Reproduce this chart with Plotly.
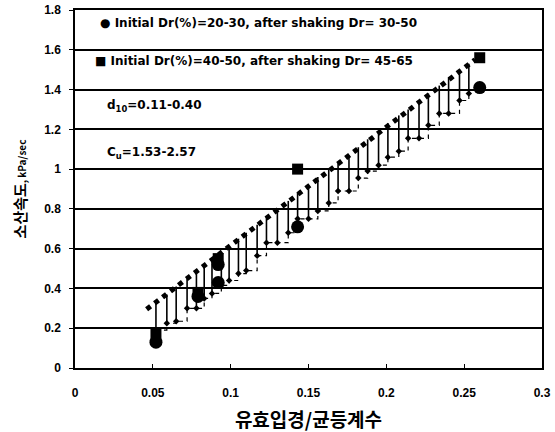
import plotly.graph_objects as go

# Series 1: Initial Dr(%)=20-30, after shaking Dr=30-50 (circles)
s1_x = [0.052, 0.079, 0.092, 0.092, 0.143, 0.260]
s1_y = [0.13, 0.36, 0.43, 0.52, 0.71, 1.41]

# Series 2: Initial Dr(%)=40-50, after shaking Dr=45-65 (squares)
s2_x = [0.052, 0.079, 0.092, 0.143, 0.260]
s2_y = [0.17, 0.38, 0.55, 1.00, 1.56]

# Upper trend line (dotted) end points
trend_x = [0.046, 0.257]
trend_y = [0.295, 1.55]

# Hatched band: verticals from top to bottom
band_x = [0.052, 0.059, 0.065, 0.072, 0.078, 0.083, 0.088, 0.094, 0.099, 0.105,
          0.110, 0.117, 0.123, 0.130, 0.137, 0.143, 0.150, 0.156, 0.163, 0.169,
          0.176, 0.182, 0.188, 0.195, 0.201, 0.208, 0.214, 0.221, 0.227, 0.234,
          0.240, 0.247, 0.253]
band_top = [0.33, 0.37, 0.41, 0.45, 0.49, 0.52, 0.55, 0.58, 0.61, 0.65,
            0.68, 0.72, 0.76, 0.80, 0.84, 0.88, 0.92, 0.96, 1.00, 1.03,
            1.07, 1.11, 1.15, 1.19, 1.23, 1.27, 1.30, 1.34, 1.38, 1.42,
            1.46, 1.50, 1.53]
band_bottom = [0.19, 0.225, 0.235, 0.30, 0.30, 0.35, 0.375, 0.415, 0.44, 0.475,
               0.49, 0.565, 0.63, 0.63, 0.68, 0.75, 0.75, 0.79, 0.83, 0.89,
               0.89, 0.955, 0.99, 1.02, 1.06, 1.09, 1.155, 1.155, 1.22, 1.28,
               1.28, 1.345, 1.38]

x_ticks = [0, 0.05, 0.1, 0.15, 0.2, 0.25, 0.3]
y_ticks = [0, 0.2, 0.4, 0.6, 0.8, 1, 1.2, 1.4, 1.6, 1.8]

seg_x, seg_y = [], []
for xv, t, b in zip(band_x, band_top, band_bottom):
    seg_x += [xv, xv, None]
    seg_y += [t, b, None]

fig = go.Figure()
fig.add_trace(go.Scatter(x=seg_x, y=seg_y, mode="lines",
                         line=dict(color="black", width=1.6), showlegend=False))
fig.add_trace(go.Scatter(x=band_x, y=band_bottom, mode="lines+markers", line_shape="hv",
                         line=dict(color="black", width=1.2, dash="4px,4px"),
                         marker=dict(symbol="diamond", size=5, color="black"),
                         showlegend=False))
fig.add_trace(go.Scatter(x=trend_x, y=trend_y, mode="lines",
                         line=dict(color="black", width=5, dash="5px,5px"),
                         showlegend=False))
fig.add_trace(go.Scatter(x=s2_x, y=s2_y, mode="markers",
                         marker=dict(symbol="square", size=11, color="black"),
                         showlegend=False))
fig.add_trace(go.Scatter(x=s1_x, y=s1_y, mode="markers",
                         marker=dict(symbol="circle", size=13, color="black"),
                         showlegend=False))

txt_font = dict(family="DejaVu Sans", size=12, color="black", weight="bold")
notes = [
    (0.0148, 1.735, "● Initial Dr(%)=20-30, after shaking Dr= 30-50"),
    (0.0115, 1.545, "■ Initial Dr(%)=40-50, after shaking Dr= 45-65"),
    (0.019, 1.315, "d<sub>10</sub>=0.11-0.40"),
    (0.019, 1.08, "C<sub>u</sub>=1.53-2.57"),
]
for xv, yv, t in notes:
    fig.add_annotation(x=xv, y=yv, xref="x", yref="y", text=t, showarrow=False,
                       xanchor="left", yanchor="middle", font=txt_font)

tick_font = dict(size=12, family="Liberation Sans", weight="bold", color="black")
fig.update_layout(
    width=555, height=432,
    margin=dict(l=75, r=13, t=10, b=64),
    paper_bgcolor="white", plot_bgcolor="white",
    font=dict(family="Liberation Sans, Arial, sans-serif", color="black"),
    xaxis=dict(range=[0, 0.3], tickvals=x_ticks, ticktext=[f"{v:g}" for v in x_ticks],
               showgrid=False, zeroline=False, showline=True, mirror=True,
               linecolor="black", linewidth=1.5, ticks="inside", ticklen=4,
               tickcolor="black", tickfont=tick_font, automargin=False,
               ticklabelstandoff=13, ticklabeloverflow="allow",
               title=dict(text="<b>유효입경/균등계수</b>",
                          font=dict(family="Noto Sans CJK KR", size=19), standoff=17)),
    yaxis=dict(range=[0, 1.8], tickvals=y_ticks, ticktext=[f"{v:g}" for v in y_ticks],
               showgrid=True, gridcolor="black", gridwidth=1.5, zeroline=False,
               showline=True, mirror=True, linecolor="black", linewidth=1.5,
               ticks="outside", ticklen=4, tickcolor="black",
               tickfont=tick_font, automargin=False, ticklabelstandoff=6,
               ticklabeloverflow="allow",
               title=dict(text="<b>소산속도</b><span style='font-size:10px'><b>, kPa/sec</b></span>",
                          font=dict(family="Noto Sans CJK KR", size=15), standoff=14)),
)

# remove the default 8px page margin so the figure fills the window
fig.write_html("out.html", config={"displayModeBar": False},
               post_script="document.body.style.margin='0';")
